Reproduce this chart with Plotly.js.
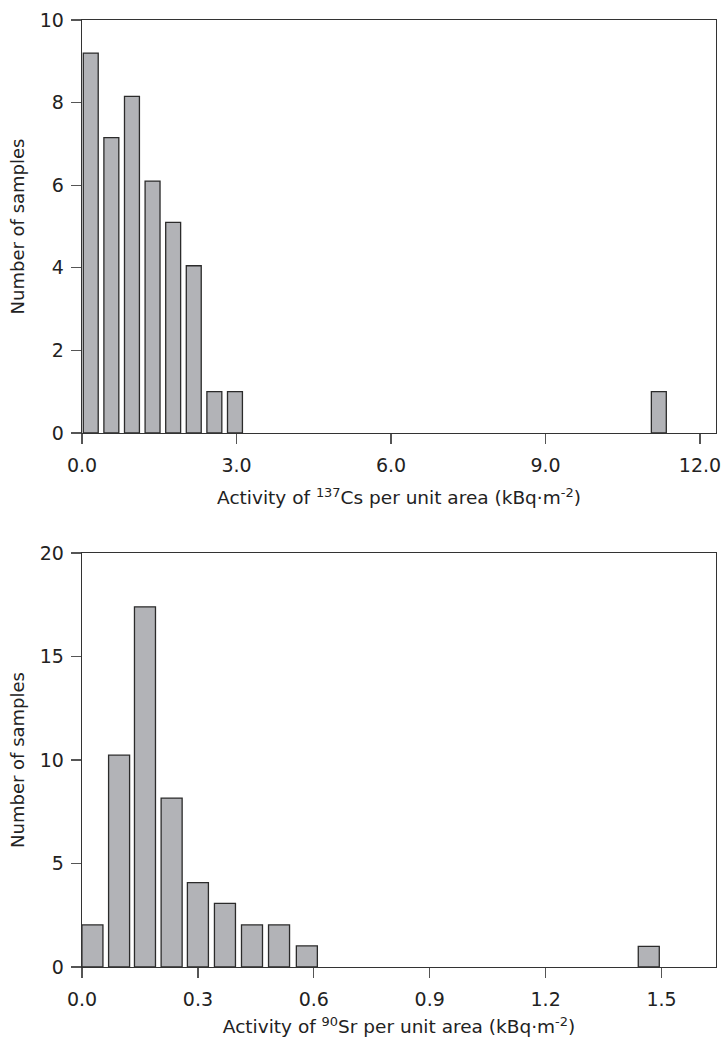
<!DOCTYPE html>
<html>
<head>
<meta charset="utf-8">
<script src="https://cdn.plot.ly/plotly-3.0.1.min.js"></script>
<style>html,body{margin:0;padding:0;background:#fff;}#chart{width:725px;height:1047px;}</style>
</head>
<body>
<div id="chart"></div>
<script>
// Panel 1: 137Cs
const csBinCenters = [0.17, 0.57, 0.97, 1.37, 1.77, 2.17, 2.57, 2.97, 11.2];
const csCounts     = [9.2, 7.15, 8.15, 6.1, 5.1, 4.05, 1, 1, 1];
// Panel 2: 90Sr
const srBinCenters = [0.027, 0.096, 0.163, 0.232, 0.300, 0.370, 0.440, 0.510, 0.582, 1.467];
const srCounts     = [2.03, 10.23, 17.4, 8.16, 4.08, 3.07, 2.03, 2.03, 1.02, 1];

const csXTitle = 'Activity of <sup>137</sup>Cs per unit area (kBq·m<sup>-2</sup>)';
const srXTitle = 'Activity of <sup>90</sup>Sr per unit area (kBq·m<sup>-2</sup>)';
const yTitle = 'Number of samples';

const FONT = 'DejaVu Sans, Liberation Sans, Arial, sans-serif';
const barFill = '#b2b3b7';
const barLine = '#2b2b2b';

const traces = [
  {type:'bar', x: csBinCenters, y: csCounts, width: 0.29, xaxis:'x', yaxis:'y',
   marker:{color: barFill, line:{color: barLine, width: 1.3}}, hoverinfo:'skip'},
  {type:'bar', x: srBinCenters, y: srCounts, width: 0.0544, xaxis:'x2', yaxis:'y2',
   marker:{color: barFill, line:{color: barLine, width: 1.3}}, hoverinfo:'skip'}
];

const axisCommon = {
  showgrid:false, zeroline:false, showline:true, mirror:true,
  linecolor:'#333', linewidth:1.3, ticks:'outside', ticklen:10, tickwidth:1.2,
  tickcolor:'#555', tickfont:{family:FONT, size:19, color:'#222'}, automargin:false
};

const layout = {
  width:725, height:1047,
  margin:{l:82, r:9, t:20, b:80},
  paper_bgcolor:'#fff', plot_bgcolor:'#fff',
  showlegend:false,
  font:{family:FONT, color:'#222'},
  xaxis: Object.assign({}, axisCommon, {
    anchor:'y', domain:[0,1], range:[0, 12.31], tickvals:[0,3,6,9,12], tickformat:'.1f',
    ticklabelstandoff:5,
    title:{text: csXTitle, font:{family:FONT, size:18.5, color:'#222'}, standoff:16}
  }),
  yaxis: Object.assign({}, axisCommon, {
    anchor:'x', domain:[0.5639, 1], range:[0,10], tickvals:[0,2,4,6,8,10],
    ticklabelstandoff:3,
    title:{text: yTitle, font:{family:FONT, size:18, color:'#222'}, standoff:10}
  }),
  xaxis2: Object.assign({}, axisCommon, {
    anchor:'y2', domain:[0,1], range:[0, 1.641], tickvals:[0,0.3,0.6,0.9,1.2,1.5], tickformat:'.1f',
    ticklabelstandoff:5,
    title:{text: srXTitle, font:{family:FONT, size:18.5, color:'#222'}, standoff:11}
  }),
  yaxis2: Object.assign({}, axisCommon, {
    anchor:'x2', domain:[0, 0.4372], range:[0,20], tickvals:[0,5,10,15,20],
    ticklabelstandoff:3,
    title:{text: yTitle, font:{family:FONT, size:18, color:'#222'}, standoff:10}
  })
};

Plotly.newPlot('chart', traces, layout, {staticPlot:true, displayModeBar:false});
</script>
</body>
</html>
